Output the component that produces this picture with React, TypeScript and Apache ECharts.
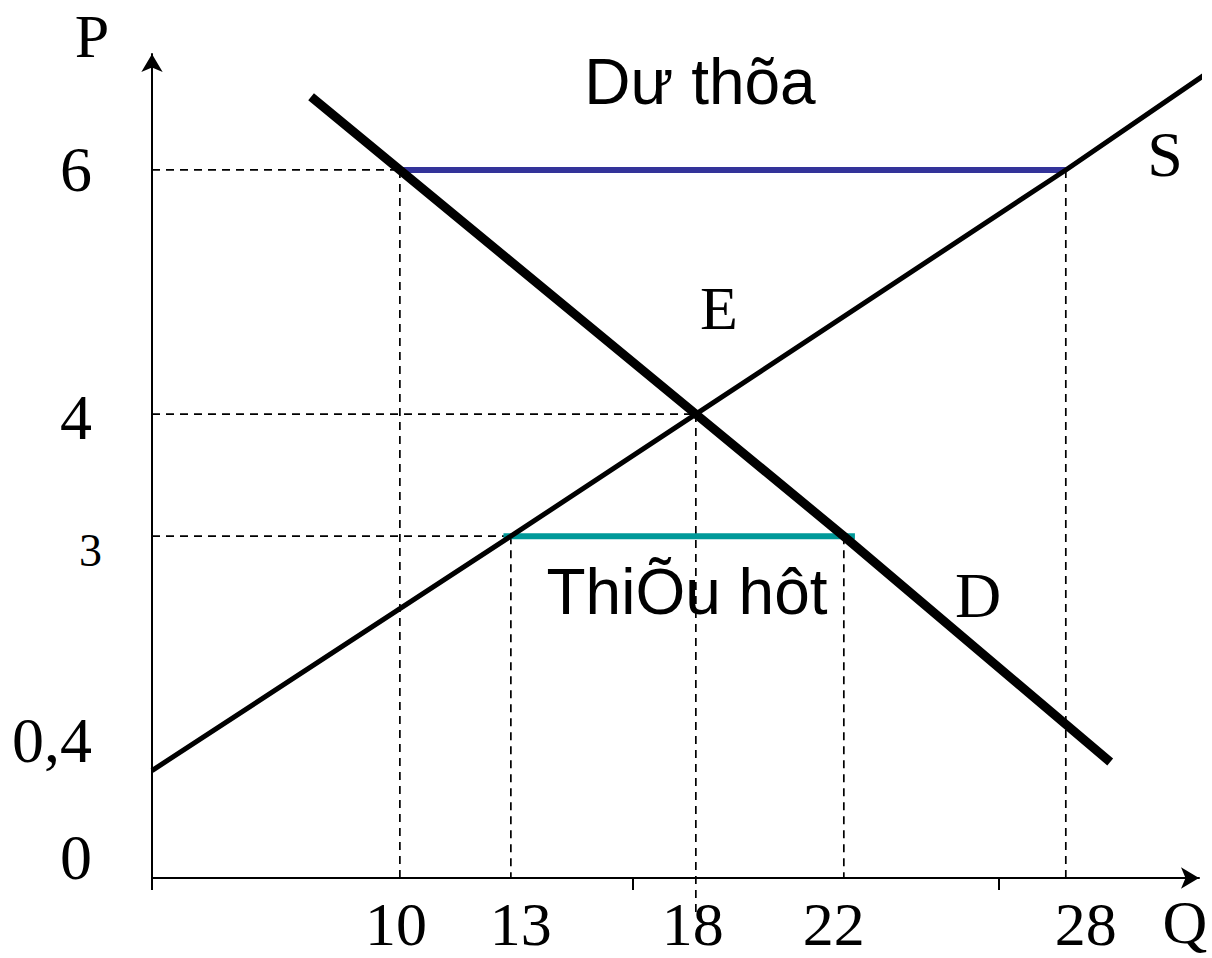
import React, { useEffect, useRef } from "react";
import * as echarts from "echarts";

// Axis ranges (quantity Q, price P)
const Q_MIN = 3.3;
const Q_MAX = 31.6;
const P_MIN = 0.2;
const P_MAX = 6.95;

// Supply and demand curves
const supplyQ = [3.3, 13, 18, 28, 31.85];
const supplyP = [1.08, 3, 4, 6, 6.8];
const demandQ = [7.6, 10, 18, 22, 29.2];
const demandP = [6.6, 6, 4, 3, 1.15];

// Surplus (price floor 6) and shortage (price ceiling 3)
const surplusP = 6;
const surplusQ = [10, 28];
const shortageP = 3;
const shortageQ = [12.8, 22.3];

// Guide lines
const vGuideQ = [10, 13, 18, 22, 28];
const vGuideTopP = [6, 3, 4, 3, 6];
const vGuideBottomP = [P_MIN, P_MIN, -0.1, P_MIN, P_MIN];
const hGuideP = [6, 4, 3];
const hGuideQ = [10, 18, 13];

// Tick labels
const xTickValues = [10, 13, 18, 22, 28];
const xTickLabels = ["10", "13", "18", "22", "28"];
const xTickMarks = [3.3, 16.3, 26.2];
const yTickLabels = ["0", "0,4", "3", "4", "6"];
const yTickValues = [P_MIN, supplyP[0], 3, 4, 6];

// Annotation texts
const surplusText = "Dư thõa";
const shortageText = "ThiÕu hôt";
const eqText = "E";
const supplyText = "S";
const demandText = "D";
const pAxisText = "P";
const qAxisText = "Q";

const SERIF = '"Liberation Serif", "Times New Roman", serif';
const SANS = '"Liberation Sans", Arial, sans-serif';

// label pixel nudges (style only)
const xLabelDx = [-4, 10, -3, -10, 20];
const yLabelDx = [0, 0, 10, 0, 0];
const yLabelDy = [-21, -30, 14, 3, 0];
const yLabelSize = [64, 64, 46, 64, 64];

export default function App() {
  const ref = useRef<HTMLDivElement>(null);

  useEffect(() => {
    const chart = echarts.init(ref.current!, null, { renderer: "svg" });

    const dash = { color: "#000", width: 1.7, type: [8, 6] as any };

    const guideSeries: any[] = [];
    vGuideQ.forEach((q, i) => {
      guideSeries.push({
        type: "line",
        data: [
          [q, vGuideTopP[i]],
          [q, vGuideBottomP[i]],
        ],
        symbol: "none",
        clip: false,
        lineStyle: dash,
        z: 1,
        silent: true,
      });
    });
    hGuideP.forEach((p, i) => {
      guideSeries.push({
        type: "line",
        data: [
          [Q_MIN, p],
          [hGuideQ[i], p],
        ],
        symbol: "none",
        lineStyle: dash,
        z: 1,
        silent: true,
      });
    });

    const textStyle = (font: string) => ({
      font,
      fill: "#000",
      lineHeight: 46,
      textAlign: "center",
      textVerticalAlign: "middle",
    });

    const option: any = {
      animation: false,
      backgroundColor: "#fff",
      grid: { left: 152, right: 13, top: 54, bottom: 80, containLabel: false },
      xAxis: {
        type: "value",
        min: Q_MIN,
        max: Q_MAX,
        splitLine: { show: false },
        axisLabel: { show: false },
        axisLine: {
          show: true,
          onZero: false,
          symbol: ["none", "arrow"],
          symbolSize: [16, 18],
          lineStyle: { color: "#000", width: 2 },
        },
        axisTick: {
          show: true,
          customValues: xTickMarks,
          length: 12,
          lineStyle: { color: "#000", width: 2 },
        },
      },
      yAxis: {
        type: "value",
        min: P_MIN,
        max: P_MAX,
        splitLine: { show: false },
        axisLabel: { show: false },
        axisTick: { show: false },
        axisLine: {
          show: true,
          onZero: false,
          symbol: ["none", "arrow"],
          symbolSize: [16, 18],
          lineStyle: { color: "#000", width: 2 },
        },
      },
      graphic: [
        { type: "text", x: 700, y: 82, style: { text: surplusText, ...textStyle(`64px ${SANS}`) } },
        { type: "text", x: 687, y: 592, style: { text: shortageText, ...textStyle(`64px ${SANS}`) } },
        { type: "text", x: 719, y: 308, style: { text: eqText, ...textStyle(`62px ${SERIF}`) } },
        { type: "text", x: 1165, y: 154, style: { text: supplyText, ...textStyle(`64px ${SERIF}`) } },
        { type: "text", x: 978, y: 595, style: { text: demandText, ...textStyle(`64px ${SERIF}`) } },
        { type: "text", x: 92, y: 36, style: { text: pAxisText, ...textStyle(`62px ${SERIF}`) } },
        { type: "text", x: 1185, y: 922, style: { text: qAxisText, ...textStyle(`62px ${SERIF}`) } },
      ],
      series: [
        ...guideSeries,
        {
          name: "surplus",
          type: "line",
          data: surplusQ.map((q) => [q, surplusP]),
          symbol: "none",
          lineStyle: { color: "#333399", width: 6 },
          z: 2,
        },
        {
          name: "shortage",
          type: "line",
          data: shortageQ.map((q) => [q, shortageP]),
          symbol: "none",
          lineStyle: { color: "#009999", width: 6 },
          z: 2,
        },
        {
          name: "S",
          type: "line",
          data: supplyQ.map((q, i) => [q, supplyP[i]]),
          symbol: "none",
          clip: false,
          lineStyle: { color: "#000", width: 5 },
          z: 3,
        },
        {
          name: "D",
          type: "line",
          data: demandQ.map((q, i) => [q, demandP[i]]),
          symbol: "none",
          clip: false,
          lineStyle: { color: "#000", width: 9 },
          z: 4,
        },
        {
          name: "xLabels",
          type: "scatter",
          symbolSize: 0,
          itemStyle: { color: "#000" },
          silent: true,
          clip: false,
          data: xTickValues.map((v, i) => ({
            value: [v, P_MIN],
            label: { formatter: xTickLabels[i], offset: [xLabelDx[i], 0], color: "#000" },
          })),
          label: {
            show: true,
            position: "bottom",
            distance: 24,
            lineHeight: 44,
            fontFamily: SERIF,
            fontSize: 62,
            color: "#000",
            opacity: 1,
          },
          z: 5,
        },
        {
          name: "yLabels",
          type: "scatter",
          symbolSize: 0,
          itemStyle: { color: "#000" },
          silent: true,
          clip: false,
          data: yTickValues.map((v, i) => ({
            value: [Q_MIN, v],
            label: {
              formatter: yTickLabels[i],
              offset: [yLabelDx[i], yLabelDy[i]],
              fontSize: yLabelSize[i],
              color: "#000",
            },
          })),
          label: {
            show: true,
            position: "left",
            distance: 60,
            fontFamily: SERIF,
            fontSize: 64,
            color: "#000",
            opacity: 1,
          },
          z: 5,
        },
      ],
    };

    chart.setOption(option);
    return () => chart.dispose();
  }, []);

  return (
    <div
      ref={ref}
      style={{ position: "fixed", left: 0, top: 0, width: 1212, height: 958, background: "#fff" }}
    />
  );
}
